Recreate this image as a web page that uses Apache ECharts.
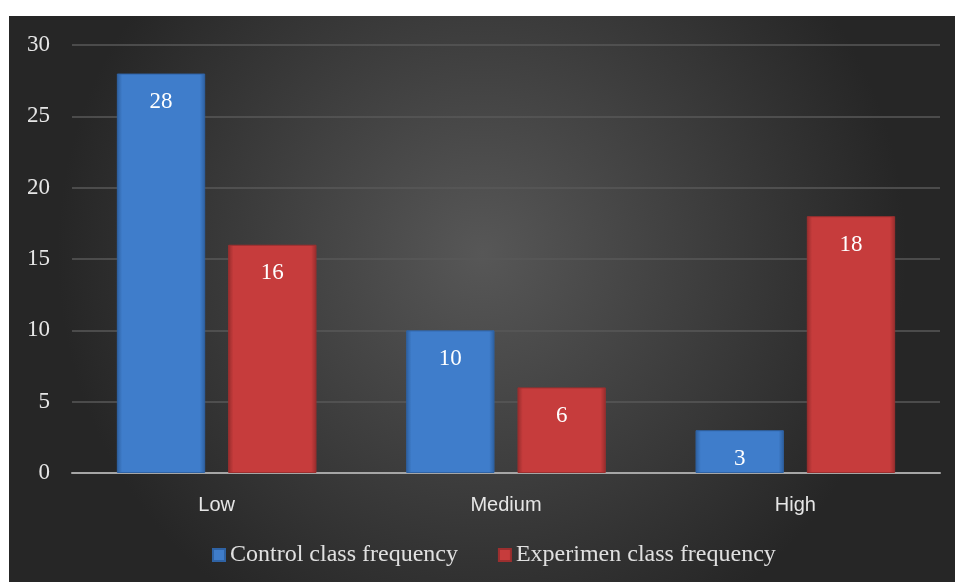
<!DOCTYPE html>
<html>
<head>
<meta charset="utf-8">
<script src="https://cdn.jsdelivr.net/npm/echarts@6/dist/echarts.min.js"></script>
<style>html,body{margin:0;padding:0;background:#fff;}#c{width:955px;height:582px;}</style>
</head>
<body>
<div id="c"></div>
<script>
var categories = ['Low', 'Medium', 'High'];
var controlValues = [28, 10, 3];
var experimenValues = [16, 6, 18];
var seriesNames = ['Control class frequency', 'Experimen class frequency'];
var yTicks = [0, 5, 10, 15, 20, 25, 30];

function barGrad(mid, bot) {
  return new echarts.graphic.LinearGradient(0, 0, 1, 0, [
    {offset: 0, color: bot},
    {offset: 0.06, color: mid},
    {offset: 0.94, color: mid},
    {offset: 1, color: bot}
  ]);
}

var chart = echarts.init(document.getElementById('c'));
chart.setOption({
  backgroundColor: '#ffffff',
  animation: false,
  graphic: [{
    type: 'rect', z: -10, silent: true,
    shape: {x: 9, y: 16, width: 946, height: 566},
    style: {
      fill: new echarts.graphic.RadialGradient(0.5, 0.42, 0.75, [
        {offset: 0, color: '#575757'},
        {offset: 1, color: '#262626'}
      ])
    }
  }],
  grid: {left: 72, right: 15, top: 45, bottom: 109, containLabel: false},
  legend: {
    top: 538, left: 207, itemWidth: 12, itemHeight: 12, itemGap: 40,
    icon: 'rect',
    textStyle: {color: '#e0e0e0', fontFamily: 'Liberation Serif', fontSize: 24},
    data: seriesNames
  },
  xAxis: {
    type: 'category', data: categories,
    axisLine: {lineStyle: {color: '#a6a6a6', width: 2}},
    axisTick: {show: false},
    axisLabel: {color: '#e6e6e6', fontFamily: 'Liberation Sans', fontSize: 20, margin: 22}
  },
  yAxis: {
    type: 'value', min: 0, max: 30, interval: 5,
    axisLine: {show: false}, axisTick: {show: false},
    splitLine: {lineStyle: {color: '#585858', width: 1.5}},
    axisLabel: {color: '#e6e6e6', fontFamily: 'Liberation Serif', fontSize: 23, margin: 22,
      formatter: function (v) { return yTicks.indexOf(v) >= 0 ? String(v) : ''; }}
  },
  series: [{
    name: seriesNames[0], type: 'bar', data: controlValues,
    barGap: '26%', barCategoryGap: '31%',
    itemStyle: {color: barGrad('#3f7dcb', '#2d5f9e'), borderColor: '#2f63a5', borderWidth: 1},
    label: {show: true, position: 'insideTop', distance: 17, color: '#ffffff', fontFamily: 'Liberation Serif', fontSize: 23}
  }, {
    name: seriesNames[1], type: 'bar', data: experimenValues,
    itemStyle: {color: barGrad('#c63c3c', '#962c2c'), borderColor: '#9c2f2f', borderWidth: 1},
    label: {show: true, position: 'insideTop', distance: 17, color: '#ffffff', fontFamily: 'Liberation Serif', fontSize: 23}
  }],
  color: ['#3f7dcb', '#c63c3c']
});
</script>
</body>
</html>
